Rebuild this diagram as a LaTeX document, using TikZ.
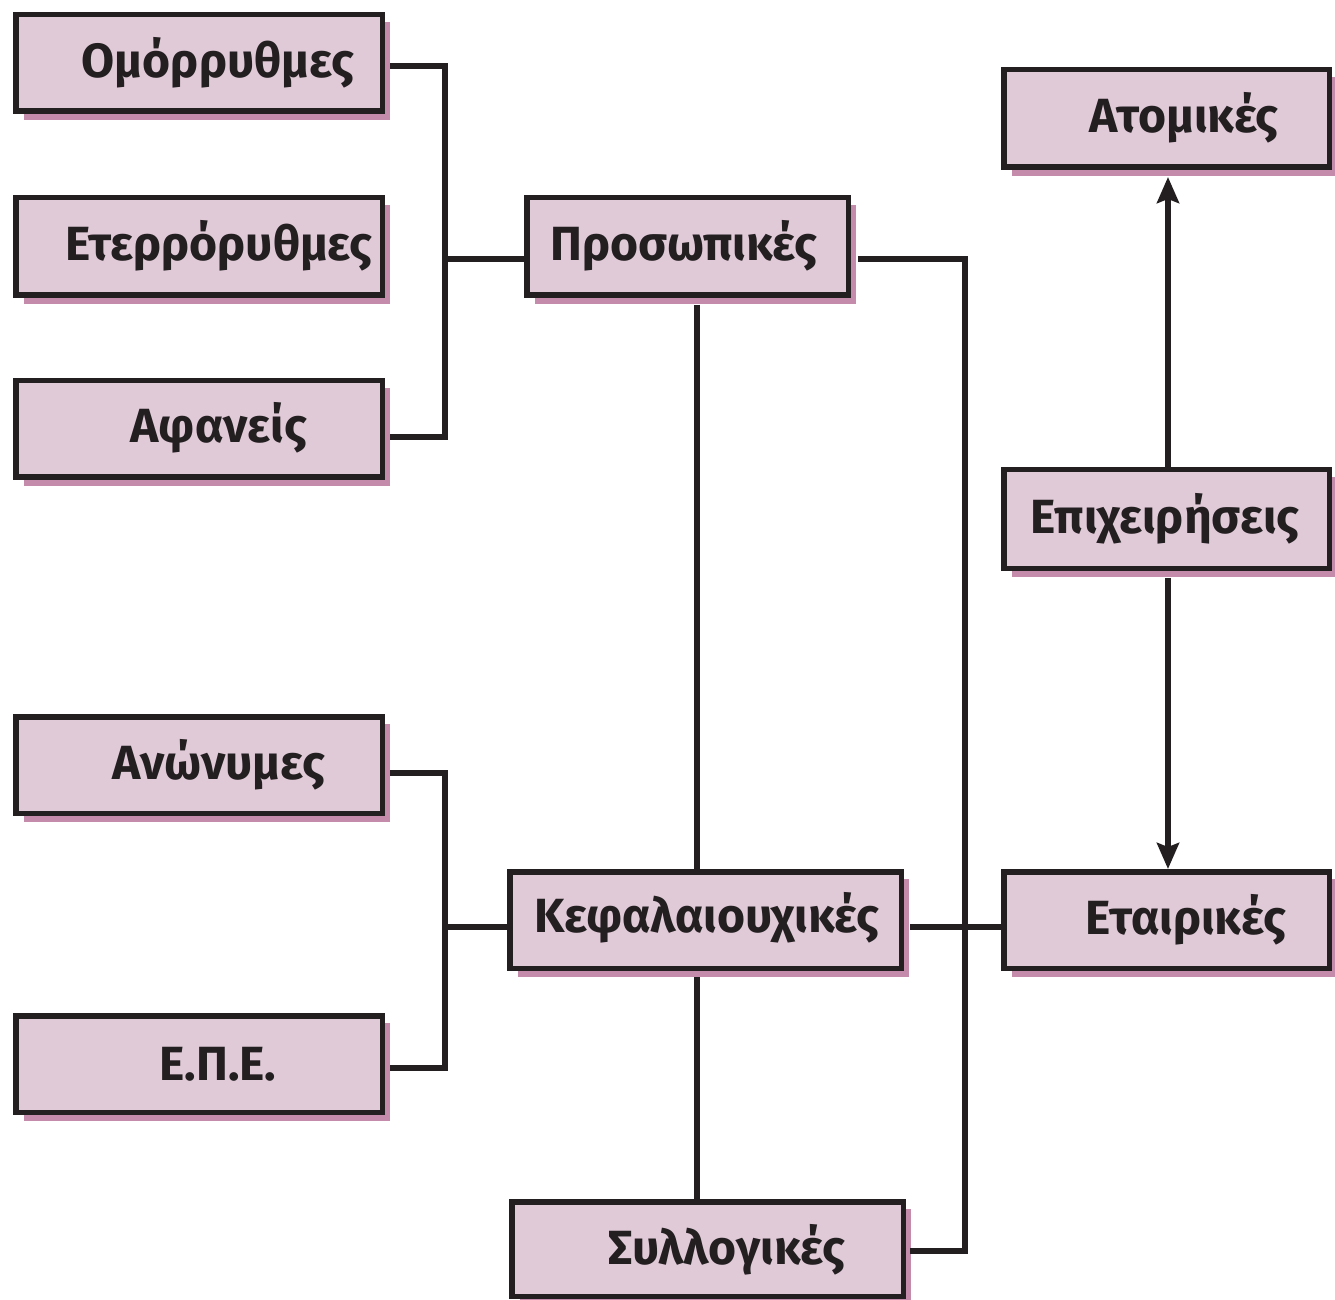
\documentclass[tikz,border=0pt]{standalone}
\usepackage{fontspec}
\setmainfont{Fira Sans}[BoldFont={Fira Sans Bold}]
\usetikzlibrary{arrows.meta,backgrounds}
\definecolor{boxfill}{HTML}{E1CAD8}
\definecolor{shadowc}{HTML}{C48BAA}
\definecolor{ink}{HTML}{231F20}
\tikzset{
  ebox/.style={draw=ink, line width=2.75pt, fill=boxfill, rectangle, inner sep=0pt},
  etext/.style={text=ink, font=\fontsize{24}{28}\selectfont\bfseries, inner sep=0pt, anchor=center},
  conn/.style={draw=ink, line width=2.75pt},
  arr/.style={conn, -{Stealth[length=13pt,width=11pt,inset=2pt]}}
}
\begin{document}
\begin{tikzpicture}[x=0.5pt,y=-0.5pt]
\useasboundingbox (0,0) rectangle (1335,1300);
% boxes
\node[ebox, minimum width=183.25pt, minimum height=48.25pt] (omo) at (199,63) {};
\node[ebox, minimum width=183.25pt, minimum height=48.75pt] (ete) at (199,246.5) {};
\node[ebox, minimum width=183.25pt, minimum height=48.25pt] (afa) at (199,429) {};
\node[ebox, minimum width=183.25pt, minimum height=48.25pt] (ano) at (199,765) {};
\node[ebox, minimum width=183.25pt, minimum height=48.25pt] (epe) at (199,1064) {};
\node[ebox, minimum width=160.75pt, minimum height=48.75pt] (pro) at (687.5,246.5) {};
\node[ebox, minimum width=195.75pt, minimum height=48.25pt] (kef) at (705.5,920) {};
\node[ebox, minimum width=195.75pt, minimum height=47.25pt] (syl) at (707.5,1249) {};
\node[ebox, minimum width=162.75pt, minimum height=48.75pt] (ato) at (1166.5,118.5) {};
\node[ebox, minimum width=162.75pt, minimum height=49.25pt] (epi) at (1166.5,519) {};
\node[ebox, minimum width=162.75pt, minimum height=48.25pt] (eta) at (1166.5,920) {};
% shadows
\begin{scope}[on background layer]
\foreach \n in {omo,ete,afa,ano,epe,pro,kef,syl,ato,epi,eta}{
  \fill[shadowc] ([xshift=5.5pt,yshift=-5pt]\n.north west) rectangle ([xshift=2.5pt,yshift=-3pt]\n.south east);
}
\end{scope}
% texts
\node[etext] (tomo) at (218,63) {Ομόρρυθμες};
\node[etext] (tete) at (219,246) {Ετερρόρυθμες};
\node[etext] (tafa) at (219,428) {Αφανείς};
\node[etext] (tano) at (219,765) {Ανώνυμες};
\node[etext] (tepe) at (218,1064) {Ε.Π.Ε.};
\node[etext] (tpro) at (684,246) {Προσωπικές};
\node[etext] (tkef) at (707,918) {Κεφαλαιουχικές};
\node[etext] (tsyl) at (727,1250) {Συλλογικές};
\node[etext] (tato) at (1184,118) {Ατομικές};
\node[etext] (tepi) at (1165,519) {Επιχειρήσεις};
\node[etext] (teta) at (1186,920) {Εταιρικές};
% connectors
\coordinate (jl) at (445,259);
\coordinate (jk) at (445,927);
\coordinate (jr) at (965,259);
\draw[conn] ([xshift=2.5pt,yshift=-1.5pt]omo.east) -| (jl) |- ([xshift=2.5pt,yshift=-4pt]afa.east);
\draw[conn] (jl) -- (jl -| pro.west);
\draw[conn] ([xshift=3.5pt,yshift=-6.25pt]pro.east) -- (jr) |- ([xshift=2pt,yshift=-1pt]syl.east);
\draw[conn] ([xshift=4.75pt,yshift=-3.5pt]pro.south) coordinate (pd) -- (pd |- kef.north);
\draw[conn] ([xshift=-4.25pt,yshift=-3pt]kef.south) coordinate (kd) -- (kd |- syl.north);
\draw[conn] ([xshift=2.5pt,yshift=-4pt]ano.east) -| (jk) |- ([xshift=2.5pt,yshift=-2pt]epe.east);
\draw[conn] (jk) -- (jk -| kef.west);
\draw[conn] ([xshift=3pt,yshift=-3.5pt]kef.east) -- ([yshift=-3.5pt]eta.west);
\draw[arr] ([xshift=0.75pt]epi.north) coordinate (eu) -- ([yshift=-3.5pt]eu |- ato.south);
\draw[arr] ([xshift=0.75pt,yshift=-3.5pt]epi.south) coordinate (ed) -- (ed |- eta.north);
\end{tikzpicture}
\end{document}
